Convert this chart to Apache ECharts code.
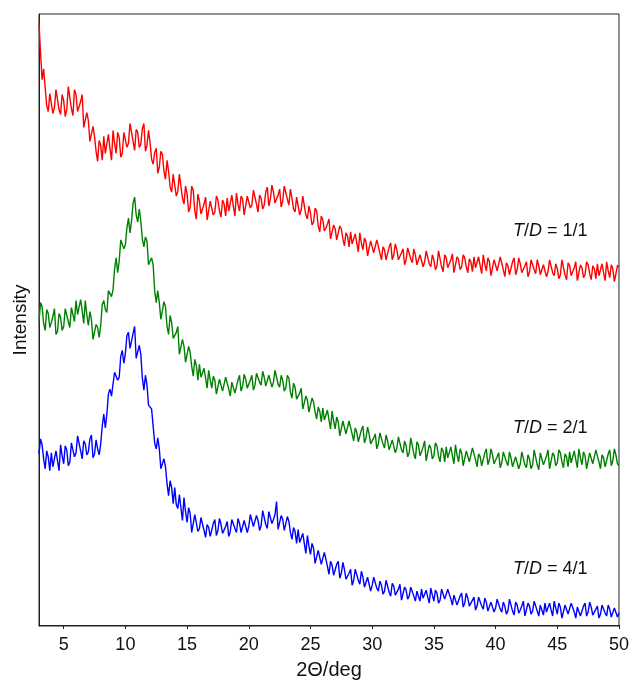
<!DOCTYPE html>
<html>
<head>
<meta charset="utf-8">
<title>XRD T/D</title>
<script src="https://cdn.jsdelivr.net/npm/echarts@6/dist/echarts.min.js"></script>
<style>
  html, body { margin: 0; padding: 0; background: #fff; }
  #chart { width: 632px; height: 685px; }
</style>
</head>
<body>
<div id="chart"></div>
<script>
// scan grid: 2theta from 3 deg, readings every 0.25 deg (A) and the half steps in between (B)
// values, arbitrary units
const scanStart = 3
const scanStep = 0.25

const xTicks = [5, 10, 15, 20, 25, 30, 35, 40, 45, 50]

const labels = ['1/1', '2/1', '4/1']

// T/D = 1/1
const redA = [
  605, 548, 540, 516, 535, 520, 539, 513, 527, 518,
  539, 512, 533, 521, 533, 499, 507, 486, 491, 466,
  482, 491, 473, 479, 497, 474, 490, 474, 495, 484,
  503, 477, 495, 483, 504, 482, 485, 463, 479, 460,
  473, 448, 456, 435, 453, 436, 452, 423, 433, 420,
  437, 408, 426, 418, 430, 409, 424, 415, 427, 410,
  423, 429, 416, 421, 434, 416, 428, 414, 431, 422,
  437, 415, 429, 422, 440, 428, 435, 422, 438, 426,
  439, 422, 429, 415, 430, 417, 431, 408, 414, 405,
  416, 395, 407, 399, 408, 389, 398, 389, 398, 381,
  391, 395, 381, 384, 394, 377, 385, 373, 385, 376,
  386, 367, 377, 369, 384, 372, 377, 365, 378, 367,
  378, 364, 372, 360, 373, 365, 377, 360, 367, 361,
  374, 355, 369, 363, 373, 356, 367, 360, 369, 354,
  365, 370, 358, 361, 372, 356, 365, 353, 366, 358,
  369, 350, 361, 354, 369, 357, 363, 352, 365, 355,
  366, 353, 361, 350, 363, 355, 368, 351, 358, 352,
  365, 347, 361, 355, 365, 348, 359, 352, 362, 347,
  358, 363, 350, 354, 365, 349, 358, 347, 360
]
const redB = [
  575, 559, 522, 534, 514, 538, 518, 533, 511, 541,
  519, 538, 516, 526, 500, 515, 486, 501, 476, 487,
  467, 474, 493, 467, 484, 495, 470, 495, 480, 504,
  486, 498, 480, 499, 476, 497, 468, 475, 454, 476,
  456, 467, 440, 453, 431, 453, 429, 441, 415, 441,
  416, 433, 413, 423, 407, 426, 412, 431, 416, 427,
  411, 416, 432, 411, 423, 431, 412, 431, 419, 437,
  423, 432, 418, 435, 421, 442, 424, 432, 420, 441,
  428, 438, 418, 430, 412, 431, 412, 421, 402, 419,
  401, 411, 396, 403, 388, 402, 387, 401, 388, 394,
  380, 383, 393, 375, 384, 389, 371, 386, 374, 387,
  374, 380, 367, 380, 367, 383, 367, 374, 362, 379,
  368, 378, 362, 372, 360, 376, 363, 372, 357, 376,
  360, 372, 359, 367, 354, 370, 357, 372, 360, 368,
  355, 359, 370, 353, 363, 369, 351, 367, 356, 370,
  357, 364, 352, 365, 352, 369, 354, 361, 350, 367,
  357, 367, 352, 362, 350, 367, 354, 363, 348, 367,
  352, 364, 351, 359, 346, 362, 349, 365, 353, 361,
  348, 351, 363, 346, 356, 362, 345, 361
]

// T/D = 2/1
const greenA = [
  305, 320, 296, 313, 304, 318, 295, 309, 300, 316,
  299, 317, 326, 311, 316, 326, 301, 307, 287, 299,
  301, 326, 314, 337, 337, 369, 366, 385, 382, 409,
  406, 430, 405, 406, 380, 386, 361, 362, 324, 324,
  308, 320, 292, 304, 290, 300, 272, 280, 266, 274,
  250, 261, 262, 247, 248, 256, 238, 246, 234, 246,
  237, 248, 230, 242, 235, 251, 240, 247, 237, 251,
  241, 253, 241, 249, 238, 252, 244, 257, 239, 246,
  238, 248, 228, 239, 230, 238, 218, 226, 216, 224,
  207, 215, 218, 204, 206, 215, 197, 204, 192, 203,
  194, 204, 185, 194, 186, 200, 188, 192, 180, 192,
  182, 192, 178, 185, 174, 187, 178, 190, 173, 180,
  173, 186, 167, 181, 174, 185, 167, 178, 170, 180,
  164, 175, 179, 167, 170, 181, 164, 173, 162, 174,
  166, 177, 159, 169, 162, 177, 166, 171, 160, 173,
  163, 173, 160, 168, 157, 170, 162, 175, 158, 167,
  161, 174, 156, 171, 165, 176, 159, 170, 163, 173,
  158, 169, 174, 162, 166, 177, 161, 170, 159, 172,
  164, 175, 157, 168, 161, 176, 165, 171, 160
]
const greenB = [
  324, 303, 317, 299, 310, 292, 313, 296, 318, 305,
  319, 305, 312, 327, 303, 312, 315, 287, 302, 289,
  322, 317, 336, 330, 358, 354, 387, 378, 399, 394,
  424, 412, 418, 388, 390, 362, 369, 336, 336, 307,
  325, 300, 311, 288, 294, 272, 287, 264, 280, 260,
  267, 246, 249, 258, 238, 246, 250, 232, 247, 235,
  249, 237, 244, 233, 246, 235, 252, 238, 246, 236,
  253, 244, 255, 240, 251, 239, 256, 242, 251, 235,
  251, 234, 243, 227, 233, 217, 230, 214, 228, 214,
  219, 204, 206, 216, 197, 205, 209, 190, 205, 192,
  205, 192, 198, 184, 196, 183, 199, 182, 188, 177,
  193, 182, 191, 176, 186, 173, 189, 176, 185, 169,
  188, 172, 184, 170, 179, 165, 181, 167, 183, 170,
  178, 164, 168, 179, 162, 171, 177, 160, 175, 164,
  178, 166, 172, 160, 173, 161, 177, 162, 169, 158,
  174, 164, 174, 159, 169, 157, 174, 161, 171, 157,
  176, 161, 173, 161, 170, 157, 173, 160, 176, 164,
  172, 159, 163, 175, 158, 168, 174, 157, 173, 162,
  176, 164, 171, 159, 172, 160, 177, 162
]

// T/D = 4/1
const blueA = [
  172, 181, 157, 169, 173, 158, 165, 181, 162, 176,
  164, 183, 173, 189, 167, 182, 174, 191, 172, 177,
  182, 212, 212, 237, 231, 253, 249, 276, 273, 294,
  276, 300, 268, 272, 236, 241, 219, 217, 177, 177,
  155, 159, 130, 138, 138, 117, 118, 128, 103, 112,
  95, 109, 97, 107, 88, 98, 91, 106, 95, 101,
  90, 104, 94, 106, 93, 102, 92, 106, 99, 113,
  97, 105, 100, 114, 97, 112, 106, 124, 97, 106,
  97, 104, 86, 94, 96, 81, 82, 90, 71, 77,
  63, 73, 62, 71, 51, 60, 51, 64, 52, 56,
  44, 56, 45, 55, 41, 48, 36, 48, 40, 49,
  34, 40, 34, 43, 29, 39, 33, 41, 27, 35,
  29, 36, 24, 32, 36, 26, 28, 37, 24, 32,
  25, 35, 28, 35, 20, 28, 21, 32, 22, 27,
  17, 28, 19, 28, 16, 23, 13, 24, 17, 27,
  13, 19, 14, 24, 10, 20, 15, 24, 11, 19,
  14, 22, 9, 18, 22, 12, 15, 24, 11, 18,
  9, 19, 13, 21, 7, 16, 10, 22, 13, 18,
  8, 19, 11, 20, 9, 16, 7, 18, 12
]
const blueB = [
  187, 167, 175, 155, 159, 175, 155, 170, 180, 160,
  183, 169, 190, 175, 185, 171, 187, 168, 186, 171,
  200, 198, 232, 230, 254, 246, 270, 263, 291, 278,
  293, 268, 281, 248, 251, 221, 217, 183, 188, 157,
  167, 142, 145, 122, 121, 131, 105, 114, 118, 93,
  111, 94, 108, 95, 101, 89, 102, 90, 107, 92,
  99, 89, 106, 97, 107, 93, 105, 93, 111, 99,
  110, 95, 115, 101, 114, 102, 111, 96, 110, 95,
  109, 93, 98, 82, 83, 92, 72, 79, 82, 62,
  75, 61, 73, 59, 64, 50, 61, 47, 63, 46,
  52, 40, 56, 45, 54, 38, 48, 34, 48, 37,
  44, 31, 45, 33, 42, 30, 36, 25, 38, 26,
  38, 29, 34, 24, 27, 35, 22, 30, 35, 22,
  36, 26, 36, 26, 30, 20, 29, 18, 32, 19,
  25, 15, 28, 19, 27, 14, 23, 13, 26, 16,
  23, 11, 26, 14, 23, 12, 19, 9, 22, 11,
  24, 14, 20, 10, 13, 22, 9, 17, 22, 7,
  20, 11, 22, 13, 18, 9, 19, 9, 23, 10,
  16, 7, 20, 12, 20, 8, 17, 8
]

const font = 'Liberation Sans, Arial, Helvetica, sans-serif'

// merge on-grid and half-step readings into [2theta, intensity] pairs
function toPairs(onGrid, half) {
  const out = []
  onGrid.forEach((v, i) => {
    out.push([scanStart + i * scanStep, v])
    if (i < half.length) out.push([scanStart + (i + 0.5) * scanStep, half[i]])
  })
  return out
}

function lineSeries(name, onGrid, half, color) {
  return {
    name: name,
    type: 'line',
    data: toPairs(onGrid, half),
    showSymbol: false,
    sampling: 'none',
    lineStyle: { color: color, width: 1.4, join: 'miter', miterLimit: 2 },
    itemStyle: { color: color },
    emphasis: { disabled: true }
  }
}

function tdLabel(text, left, top) {
  return {
    type: 'text',
    left: left,
    top: top,
    style: {
      text: '{i|T}/{i|D} = ' + text,
      fontFamily: font,
      fontSize: 18,
      fill: '#111',
      rich: {
        i: { fontStyle: 'italic', fontFamily: font, fontSize: 18, fill: '#111' }
      }
    }
  }
}

const chart = echarts.init(document.getElementById('chart'))

const option = {
  animation: false,
  backgroundColor: '#fff',
  grid: {
    left: 39,
    right: 9,
    top: 14,
    bottom: 57,
    show: true,
    borderColor: '#222',
    borderWidth: 1
  },
  xAxis: {
    type: 'value',
    min: 3,
    max: 50,
    name: '2Θ/deg',
    nameLocation: 'middle',
    nameGap: 34,
    nameTextStyle: { fontFamily: font, fontSize: 20, color: '#111' },
    axisLine: { lineStyle: { color: '#222', width: 1 } },
    axisTick: { show: true, length: 4, customValues: xTicks, lineStyle: { color: '#222' } },
    axisLabel: { customValues: xTicks, fontFamily: font, fontSize: 18, color: '#111', margin: 10 },
    splitLine: { show: false }
  },
  yAxis: {
    type: 'value',
    min: -1,
    max: 614,
    name: 'Intensity',
    nameLocation: 'middle',
    nameGap: 9,
    nameTextStyle: { fontFamily: font, fontSize: 19, color: '#111' },
    axisLine: { show: true, lineStyle: { color: '#222', width: 1 } },
    axisTick: { show: false },
    axisLabel: { show: false },
    splitLine: { show: false }
  },
  graphic: [
    tdLabel(labels[0], 513, 222),
    tdLabel(labels[1], 513, 419),
    tdLabel(labels[2], 513, 560)
  ],
  series: [
    lineSeries('T/D = 1/1', redA, redB, '#ff0000'),
    lineSeries('T/D = 2/1', greenA, greenB, '#008000'),
    lineSeries('T/D = 4/1', blueA, blueB, '#0000ff')
  ]
}

chart.setOption(option)
</script>
</body>
</html>
